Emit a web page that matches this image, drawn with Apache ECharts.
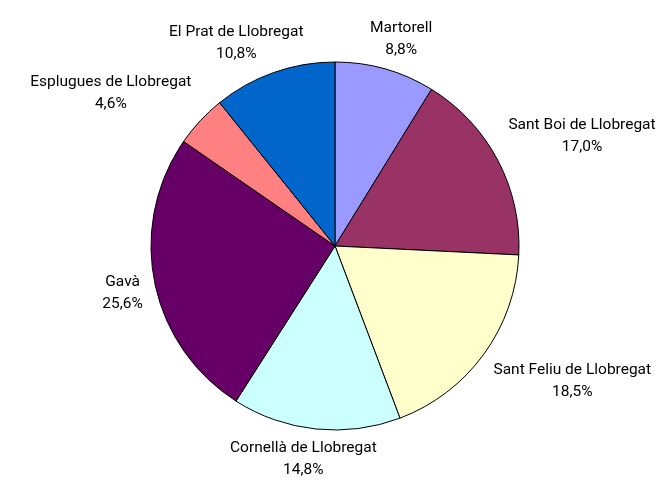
<!DOCTYPE html>
<html>
<head>
<meta charset="utf-8">
<script src="https://cdn.jsdelivr.net/npm/echarts@6/dist/echarts.min.js"></script>
<style>
  html, body { margin: 0; padding: 0; background: #fff; }
  #chart { width: 665px; height: 486px; }
</style>
</head>
<body>
<div id="chart"></div>
<script>
// municipalities, clockwise from 12 o'clock
const names = ['Martorell', 'Sant Boi de Llobregat', 'Sant Feliu de Llobregat', 'Cornellà de Llobregat',
    'Gavà', 'Esplugues de Llobregat', 'El Prat de Llobregat'];
const shares = [8.8, 17.0, 18.5, 14.8, 25.6, 4.6, 10.8];
const colors = ['#9999FF', '#993366', '#FFFFCC', '#CCFFFF', '#660066', '#FF8080', '#0066CC'];

const cx = 335, cy = 246, radius = 184;
const gapX = 12, gapY = 8;
const total = shares.reduce((a, b) => a + b, 0);

// mid angle of each slice (clockwise from top)
const midAngles = [];
let acc = 0;
shares.forEach(v => {
    midAngles.push((acc + v / 2) / total * Math.PI * 2);
    acc += v;
});

const clamp = v => Math.max(-1, Math.min(1, v));

const chart = echarts.init(document.getElementById('chart'));
chart.setOption({
    animation: false,
    backgroundColor: '#fff',
    series: [{
        type: 'pie',
        center: [cx, cy],
        radius: radius,
        startAngle: 90,
        clockwise: true,
        silent: true,
        itemStyle: { borderColor: '#000', borderWidth: 1 },
        label: {
            show: true,
            position: 'outside',
            overflow: 'none',
            fontFamily: 'Roboto',
            fontSize: 15.5,
            lineHeight: 22,
            color: '#000',
            formatter: p => p.name + '\n' + p.value.toFixed(1).replace('.', ',') + '%'
        },
        labelLine: { show: false },
        // place each label box just outside the rim, pushed outward by half its size
        labelLayout: p => {
            const a = midAngles[p.dataIndex];
            const dx = Math.sin(a), dy = -Math.cos(a);
            const px = cx + (radius + gapX) * dx;
            const py = cy + (radius + gapY) * dy;
            return {
                x: px + clamp(dx * 1.5) * p.labelRect.width / 2,
                y: py + clamp(dy * 2) * p.labelRect.height / 2,
                align: 'center',
                verticalAlign: 'middle'
            };
        },
        data: names.map((n, i) => ({ name: n, value: shares[i], itemStyle: { color: colors[i] } }))
    }]
});
</script>
</body>
</html>
